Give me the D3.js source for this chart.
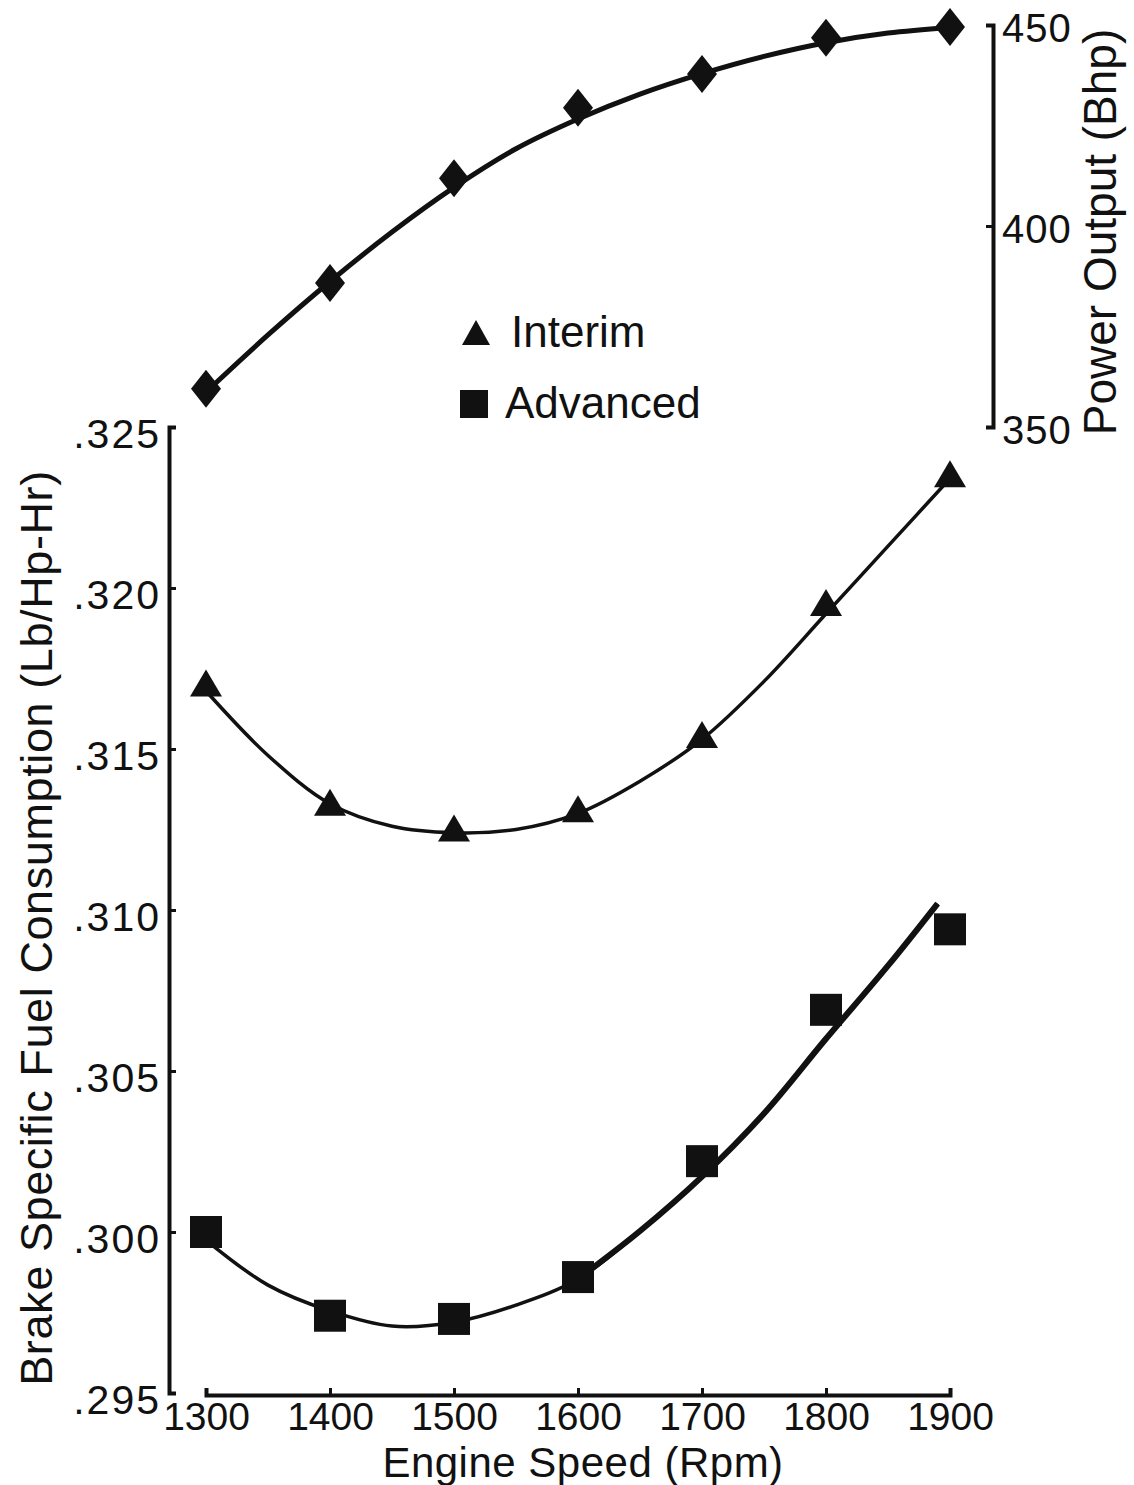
<!DOCTYPE html>
<html>
<head>
<meta charset="utf-8">
<script src="https://cdn.jsdelivr.net/npm/d3@7"></script>
<style>
  html, body { margin: 0; padding: 0; background: #fff; }
  svg { display: block; }
  text { font-family: "Liberation Sans", Arial, Helvetica, sans-serif; fill: #111; }
</style>
</head>
<body>
<svg id="chart" width="1134" height="1485"></svg>
<script>
// ---------------- DATA ----------------
const rpm = [1300, 1400, 1500, 1600, 1700, 1800, 1900];

// measured points
const interimBsfc  = [0.3170, 0.3133, 0.3125, 0.3131, 0.3154, 0.3195, 0.3235];
const advancedBsfc = [0.3000, 0.2974, 0.2973, 0.2986, 0.3022, 0.3069, 0.3094];
const powerBhp     = [359.5, 385.8, 411.9, 429.4, 437.8, 446.8, 449.5];

// fitted curves
const fitRpm          = [1300, 1350, 1400, 1450, 1500, 1550, 1600, 1650, 1700, 1750, 1800, 1850, 1900];
const interimFit      = [0.3168, 0.3148, 0.3133, 0.3126, 0.3124, 0.3125, 0.3130, 0.3140, 0.3153, 0.3171, 0.3192, 0.3213, 0.3234];
const powerFit        = [358.7, 372.9, 386.2, 398.5, 409.6, 419.2, 426.6, 432.8, 437.9, 442.2, 445.6, 448.0, 449.4];
const advancedFitRpm  = [1300, 1350, 1400, 1450, 1500, 1550, 1600, 1650, 1700, 1750, 1800, 1850, 1890];
const advancedFit     = [0.29975, 0.29835, 0.29755, 0.29708, 0.29720, 0.29773, 0.29854, 0.30003, 0.30172, 0.30368, 0.30600, 0.30827, 0.31020];

// ticks
const xTicks = [1300, 1400, 1500, 1600, 1700, 1800, 1900];
const yTicks = [0.295, 0.300, 0.305, 0.310, 0.315, 0.320, 0.325];
const yTickLabels = [".295", ".300", ".305", ".310", ".315", ".320", ".325"];
const pTicks = [350, 400, 450];

const legendItems = ["Interim", "Advanced"];

// ---------------- CHART ----------------
const svg = d3.select("#chart");
const ink = "#111";

const x  = d3.scaleLinear().domain([1300, 1900]).range([206, 950]);
const y  = d3.scaleLinear().domain([0.295, 0.325]).range([1393, 427]);
const yP = d3.scaleLinear().domain([350, 450]).range([427, 25]);

// left axis
const gL = svg.append("g").attr("transform", "translate(169,0)")
  .call(d3.axisLeft(y).tickValues(yTicks)
    .tickFormat((d, i) => yTickLabels[i])
    .tickSizeInner(-7).tickSizeOuter(-7).tickPadding(8));
gL.select(".domain").attr("stroke", ink).attr("stroke-width", 4);
gL.selectAll(".tick line").attr("stroke", ink).attr("stroke-width", 3);
gL.selectAll(".tick text").attr("font-size", 41).attr("letter-spacing", 2).attr("fill", ink)
  .attr("font-family", "Liberation Sans, Arial, sans-serif").attr("dy", "0.5em");

// bottom axis
const gB = svg.append("g").attr("transform", "translate(0,1395)")
  .call(d3.axisBottom(x).tickValues(xTicks).tickFormat(d3.format("d"))
    .tickSizeInner(-7).tickSizeOuter(-7).tickPadding(7));
gB.select(".domain").attr("stroke", ink).attr("stroke-width", 4);
gB.selectAll(".tick line").attr("stroke", ink).attr("stroke-width", 3);
gB.selectAll(".tick text").attr("font-size", 39).attr("fill", ink)
  .attr("font-family", "Liberation Sans, Arial, sans-serif").attr("dy", "0.71em");

// right axis
const gR = svg.append("g").attr("transform", "translate(993,0)")
  .call(d3.axisRight(yP).tickValues(pTicks).tickFormat(d3.format("d"))
    .tickSizeInner(-7).tickSizeOuter(-7).tickPadding(9));
gR.select(".domain").attr("stroke", ink).attr("stroke-width", 4);
gR.selectAll(".tick line").attr("stroke", ink).attr("stroke-width", 3);
gR.selectAll(".tick text").attr("font-size", 40).attr("letter-spacing", 1).attr("fill", ink)
  .attr("font-family", "Liberation Sans, Arial, sans-serif").attr("dy", "0.4em");

// axis titles
svg.append("text").attr("x", 583).attr("y", 1477).attr("text-anchor", "middle")
  .attr("font-size", 42).attr("letter-spacing", 0.5).text("Engine Speed (Rpm)");
svg.append("text").attr("transform", "translate(52,928) rotate(-90)")
  .attr("text-anchor", "middle").attr("font-size", 45).attr("letter-spacing", 0.6)
  .text("Brake Specific Fuel Consumption (Lb/Hp-Hr)");
svg.append("text").attr("transform", "translate(1116,232) rotate(-90)")
  .attr("text-anchor", "middle").attr("font-size", 46)
  .text("Power Output (Bhp)");

// curves
const lineL = d3.line().x(d => x(d[0])).y(d => y(d[1])).curve(d3.curveCatmullRom.alpha(0.5));
const lineP = d3.line().x(d => x(d[0])).y(d => yP(d[1])).curve(d3.curveCatmullRom.alpha(0.5));

svg.append("path").datum(fitRpm.map((r, i) => [r, powerFit[i]]))
  .attr("d", lineP).attr("fill", "none").attr("stroke", ink).attr("stroke-width", 5);
svg.append("path").datum(fitRpm.map((r, i) => [r, interimFit[i]]))
  .attr("d", lineL).attr("fill", "none").attr("stroke", ink).attr("stroke-width", 3.5);
const advPts = advancedFitRpm.map((r, i) => [r, advancedFit[i]]);
svg.append("path").datum(advPts)
  .attr("d", lineL).attr("fill", "none").attr("stroke", ink).attr("stroke-width", 3.5);
// the upper part of the advanced curve is drawn heavier in the original
svg.append("path").datum(advPts.filter(d => d[0] >= 1600))
  .attr("d", lineL).attr("fill", "none").attr("stroke", ink).attr("stroke-width", 6)
  .attr("stroke-linecap", "butt");

// markers
const diamond = "M0,-19 L15,0 L0,19 L-15,0 Z";
const triangle = "M0,-15 L16,12 L-16,12 Z";
svg.append("g").selectAll("path").data(rpm).join("path")
  .attr("transform", (d, i) => `translate(${x(d)},${yP(powerBhp[i])})`)
  .attr("d", diamond).attr("fill", ink);
svg.append("g").selectAll("path").data(rpm).join("path")
  .attr("transform", (d, i) => `translate(${x(d)},${y(interimBsfc[i])})`)
  .attr("d", triangle).attr("fill", ink);
svg.append("g").selectAll("rect").data(rpm).join("rect")
  .attr("x", d => x(d) - 16).attr("y", (d, i) => y(advancedBsfc[i]) - 16)
  .attr("width", 32).attr("height", 32).attr("fill", ink);

// legend
const lg = svg.append("g");
lg.append("path").attr("transform", "translate(476,334)").attr("d", "M0,-14 L14,11 L-14,11 Z").attr("fill", ink);
lg.append("text").attr("x", 511).attr("y", 347).attr("font-size", 44).text(legendItems[0]);
lg.append("rect").attr("x", 460).attr("y", 390).attr("width", 28).attr("height", 28).attr("fill", ink);
lg.append("text").attr("x", 505).attr("y", 418).attr("font-size", 44).text(legendItems[1]);
</script>
</body>
</html>
